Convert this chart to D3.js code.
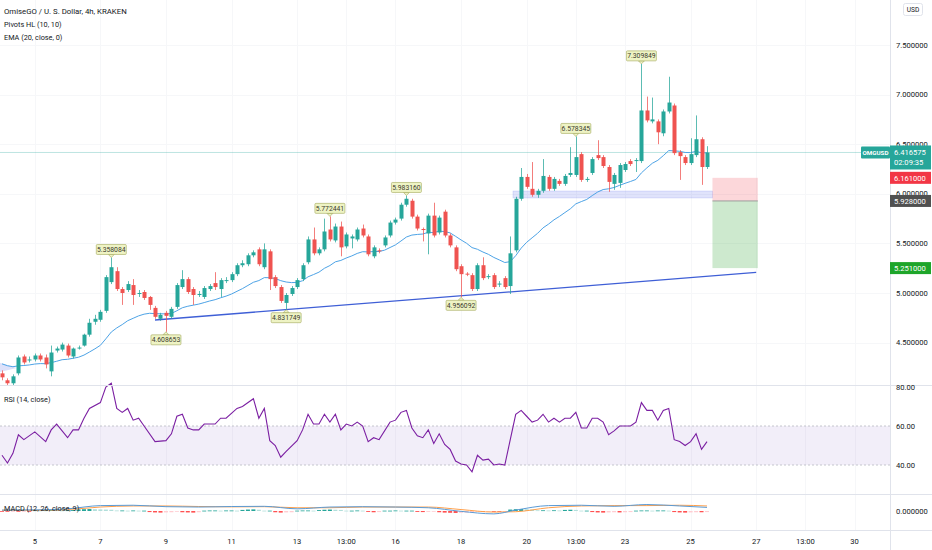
<!DOCTYPE html>
<html><head><meta charset="utf-8">
<script src="https://cdn.jsdelivr.net/npm/d3@7/dist/d3.min.js"></script>
<style>html,body{margin:0;padding:0;background:#fff;}svg{display:block;font-family:Roboto,"Liberation Sans",sans-serif;}</style>
</head><body>
<svg id="c" width="932" height="550"></svg>
<script>
// ---------- DATA ----------
const legendLines = ["OmiseGO / U. S. Dollar, 4h, KRAKEN", "Pivots HL (10, 10)", "EMA (20, close, 0)"];
const opens  = [4.19,4.12,4.09,4.19,4.36,4.32,4.33,4.37,4.35,4.21,4.42,4.43,4.47,4.36,4.44,4.47,4.58,4.71,4.73,4.82,5.11,5.22,5.04,5.03,5.08,4.99,5.01,4.96,4.85,4.74,4.80,4.76,4.86,5.06,5.14,5.04,4.98,4.96,5.04,5.10,5.04,5.12,5.13,5.19,5.28,5.29,5.38,5.44,5.26,5.42,5.16,5.06,4.90,4.99,5.06,5.14,5.31,5.54,5.40,5.44,5.64,5.53,5.67,5.47,5.55,5.54,5.65,5.57,5.37,5.43,5.48,5.58,5.71,5.75,5.89,5.93,5.77,5.645,5.60,5.78,5.61,5.82,5.58,5.46,5.27,5.195,5.18,5.04,5.28,5.16,5.18,5.085,5.15,5.07,5.43,5.95,6.17,6.05,5.99,6.03,6.17,6.05,6.13,6.10,6.19,6.19,6.40,6.14,6.21,6.39,6.37,6.27,6.10,6.11,6.24,6.33,6.33,6.33,6.84,6.73,6.73,6.61,6.83,6.89,6.42,6.37,6.31,6.39,6.55,6.27];
const highs  = [4.22,4.14,4.18,4.37,4.38,4.36,4.39,4.39,4.38,4.47,4.46,4.50,4.49,4.45,4.47,4.59,4.74,4.78,4.83,5.18,5.358084,5.26,5.06,5.12,5.14,5.03,5.03,4.97,4.87,4.80,4.82,4.86,5.10,5.23,5.16,5.06,5.02,5.07,5.09,5.21,5.15,5.16,5.21,5.30,5.33,5.40,5.43,5.46,5.50,5.44,5.18,5.08,5.00,5.07,5.15,5.30,5.57,5.66,5.46,5.75,5.772441,5.70,5.72,5.61,5.59,5.66,5.69,5.59,5.48,5.45,5.58,5.73,5.76,5.91,5.983160,5.95,5.79,5.66,5.80,5.91,5.78,5.84,5.60,5.48,5.29,5.21,5.20,5.30,5.36,5.19,5.20,5.12,5.17,5.57,5.97,6.26,6.20,6.32,6.05,6.35,6.19,6.17,6.15,6.20,6.47,6.578345,6.42,6.17,6.37,6.54,6.39,6.29,6.21,6.31,6.32,6.35,6.36,7.309849,6.98,6.97,6.75,6.85,7.18,6.91,6.44,6.39,6.56,6.79,6.57,6.48];
const lows   = [4.12,4.06,4.06,4.17,4.28,4.30,4.31,4.31,4.24,4.16,4.40,4.41,4.35,4.34,4.43,4.46,4.56,4.68,4.71,4.80,5.09,5.02,4.88,5.01,4.88,4.96,4.93,4.83,4.74,4.72,4.608653,4.74,4.84,5.04,4.99,4.88,4.96,4.94,5.02,5.03,4.96,5.10,5.11,5.17,5.26,5.27,5.36,5.27,5.24,5.03,5.05,4.90,4.831749,4.97,5.04,5.12,5.29,5.38,5.38,5.42,5.52,5.51,5.37,5.45,5.45,5.52,5.56,5.37,5.35,5.40,5.46,5.56,5.69,5.73,5.87,5.75,5.63,5.52,5.39,5.56,5.59,5.56,5.46,5.22,4.956092,5.17,5.02,5.02,5.13,5.14,5.04,5.06,5.04,4.99,5.41,5.93,6.05,5.97,5.96,6.01,6.03,6.03,6.08,6.08,6.17,6.17,6.12,6.12,6.19,6.34,6.26,6.02,6.04,6.06,6.22,6.28,6.22,6.31,6.72,6.71,6.50,6.58,6.81,6.39,6.14,6.29,6.29,6.37,6.09,6.25];
const closes = [4.15,4.09,4.16,4.35,4.30,4.33,4.37,4.33,4.28,4.40,4.44,4.48,4.37,4.44,4.45,4.58,4.70,4.74,4.81,5.16,5.26,5.04,5.00,5.09,4.98,5.00,4.95,4.88,4.76,4.78,4.77,4.84,5.08,5.14,5.01,4.98,4.99,5.05,5.07,5.06,5.13,5.13,5.19,5.28,5.30,5.38,5.41,5.29,5.44,5.14,5.07,4.92,4.98,5.05,5.13,5.28,5.54,5.40,5.44,5.62,5.54,5.67,5.46,5.59,5.57,5.64,5.58,5.39,5.46,5.42,5.56,5.71,5.74,5.89,5.95,5.77,5.65,5.635,5.78,5.58,5.76,5.58,5.48,5.24,5.19,5.185,5.04,5.28,5.15,5.17,5.06,5.095,5.06,5.40,5.95,6.17,6.07,5.99,6.03,6.18,6.05,6.15,6.10,6.18,6.21,6.37,6.14,6.15,6.35,6.36,6.28,6.12,6.19,6.29,6.30,6.30,6.34,6.84,6.74,6.75,6.62,6.83,6.92,6.41,6.38,6.31,6.40,6.55,6.27,6.416575];
const emaPeriod = 20, emaSeed = 4.30;
const pivotIdx   = [20, 30, 52, 60, 74, 84, 105, 117];
const pivotPrice = [5.358084, 4.608653, 4.831749, 5.772441, 5.983160, 4.956092, 6.578345, 7.309849];
const pivotType  = ["H","L","L","H","H","L","H","H"];
const priceTicks = [4.5, 5.0, 5.5, 6.0, 6.5, 7.0, 7.5];
const xTickIdx    = [6, 18, 30, 42, 54, 63, 72, 84, 96, 105, 114, 126, 138, 147, 156];
const xTickLabels = ["5","7","9","11","13","13:00","16","18","20","13:00","23","25","27","13:00","30"];
const rsiIdx = [0,1,2,3,4,6,8,9,10,12,13,14,15,16,18,19,20,21,22,23,24,25,26,28,30,31,32,33,34,35,36,37,39,40,41,43,44,46,47,48,49,50,51,52,54,55,56,57,58,59,60,61,62,63,64,65,66,67,68,69,71,72,73,74,75,76,77,78,79,80,81,82,83,84,85,86,87,88,89,90,91,92,94,95,96,97,98,99,100,101,102,103,104,105,106,107,108,109,110,111,112,113,114,115,116,117,118,119,120,121,122,123,124,125,126,127,128,129];
const rsiVal = [45,41,46,55.5,53,57,52,58,61,54,58,58,64,69,72,80,82,69,67,69,63,64,60,52,52.5,56,65,66,59,58,58,61,61,64,64,69,70,74,64,69,52.5,50,44,47,52.5,58,66,61,61,66,62,66,58,61,60,62,60,52,54,53,62,63,67,68,59,55,54,58,51,56,50.5,48,42,40.5,40,36.5,45,42.5,43,40,40.5,40,66,68,65,62,63,66,62,64,62,64,64,67,59,59,64,64,62,55.5,57.5,60,60,60,62,72,68,68,63,68,69,53,52,50,52,56,48,52];
const rsiTicks = [80, 60, 40];
const rsiBand = [40, 60];
const macdIdx    = [0,6,12,18,24,30,36,42,48,54,60,66,72,78,84,90,94,100,106,112,118,124,129];
const macdVal    = [0.05,0.06,0.12,0.30,0.32,0.24,0.22,0.25,0.26,0.12,0.22,0.24,0.22,0.18,-0.02,-0.16,0.05,0.30,0.32,0.26,0.36,0.28,0.20];
const signalVal  = [0.04,0.04,0.08,0.22,0.28,0.28,0.25,0.23,0.24,0.18,0.18,0.22,0.22,0.22,0.08,-0.06,-0.04,0.18,0.28,0.30,0.30,0.32,0.28];
const histVal = [-0.03,-0.03,-0.02,-0.03,-0.02,-0.03,0.04,0.03,0.04,0.05,0.04,0.03,0.04,0.05,0.09,0.10,0.11,0.10,0.09,0.08,0.07,0.03,0.03,0.02,0.03,0.02,0.02,-0.06,-0.08,-0.09,-0.08,-0.07,-0.03,-0.07,-0.08,-0.09,-0.07,0.02,0.03,0.03,0.02,0.03,0.03,0.02,0.06,0.08,0.09,0.07,0.02,0.02,-0.07,-0.09,-0.08,-0.07,0.02,0.03,0.03,0.02,0.05,0.07,0.08,0.07,0.06,0.02,0.02,0.03,0.02,-0.05,-0.07,-0.06,0.02,0.02,0.03,0.02,0.02,0.02,-0.05,-0.06,-0.05,-0.02,-0.07,-0.09,-0.10,-0.11,-0.10,-0.09,-0.08,-0.04,-0.04,-0.03,-0.04,-0.04,-0.03,0.08,0.10,0.11,0.10,0.08,0.04,0.04,0.03,0.04,0.03,0.06,0.07,0.06,0.02,0.02,-0.06,-0.08,-0.09,-0.08,-0.07,-0.08,-0.07,-0.06,0.02,0.03,0.03,0.02,0.03,0.03,0.02,-0.06,-0.08,-0.09,-0.08,-0.07,-0.07,-0.06];
const lastPrice = 6.416575, countdown = "02:09:35", symbol = "OMGUSD";
const posStop = 6.161, posEntry = 5.928, posTarget = 5.251;
const posIdx = [130, 138.3];
const zoneIdx = [93.5, 130], zonePrice = [5.958, 6.028];
const trendIdx = [28, 138], trendPrice = [4.728, 5.207];
const leftZone = [[-0.6, 4.30], [2.7, 4.245], [-0.6, 4.20]];

// ---------- LAYOUT ----------
const W = 932, H = 550, axisX = 890;
const mainTop = 0, mainBot = 385, rsiBot = 494, macdBot = 530;
const up = "#26a69a", dn = "#ef5350";
const svg = d3.select("#c");

const x  = d3.scaleLinear().domain([0, 129]).range([2, 707]);
const y  = d3.scaleLinear().domain([4.5, 7.5]).range([342.6, 45]);
const yR = d3.scaleLinear().domain([40, 80]).range([465, 387]);
const yM = d3.scaleLinear().domain([-1, 1]).range([529, 493]);

// grid
const grid = svg.append("g").attr("stroke", "#f6f7f9").attr("stroke-width", 1);
priceTicks.forEach(p => grid.append("line").attr("x1", 0).attr("x2", axisX).attr("y1", Math.round(y(p)) + 0.5).attr("y2", Math.round(y(p)) + 0.5));
xTickIdx.forEach(i => grid.append("line").attr("x1", Math.round(x(i)) + 0.5).attr("x2", Math.round(x(i)) + 0.5).attr("y1", 0).attr("y2", macdBot));

// clip for main panel
svg.append("clipPath").attr("id", "cm").append("rect").attr("x", 0).attr("y", mainTop).attr("width", axisX).attr("height", mainBot - mainTop);
const main = svg.append("g").attr("clip-path", "url(#cm)");

// zones
main.append("path").attr("d", d3.line().x(d => x(d[0])).y(d => y(d[1]))(leftZone) + "Z").attr("fill", "rgba(100,120,230,0.22)");
main.append("rect").attr("x", x(zoneIdx[0])).attr("width", x(zoneIdx[1]) - x(zoneIdx[0]))
  .attr("y", y(zonePrice[1])).attr("height", y(zonePrice[0]) - y(zonePrice[1]))
  .attr("fill", "rgba(100,115,235,0.2)").attr("stroke", "rgba(100,115,235,0.3)").attr("stroke-width", 0.6);

// last price line
main.append("line").attr("x1", 0).attr("x2", axisX).attr("y1", y(lastPrice)).attr("y2", y(lastPrice))
  .attr("stroke", "#26a69a").attr("stroke-opacity", 0.3).attr("stroke-width", 1);

// position tool
const px0 = x(posIdx[0]), px1 = x(posIdx[1]);
main.append("rect").attr("x", px0).attr("width", px1 - px0).attr("y", y(posStop)).attr("height", y(posEntry) - y(posStop)).attr("fill", "rgba(242,54,69,0.2)");
main.append("rect").attr("x", px0).attr("width", px1 - px0).attr("y", y(posEntry)).attr("height", y(posTarget) - y(posEntry)).attr("fill", "rgba(76,175,80,0.28)");
main.append("line").attr("x1", px0).attr("x2", px1).attr("y1", y(posEntry)).attr("y2", y(posEntry)).attr("stroke", "#9e9e9e").attr("stroke-width", 1);

// trend line
main.append("line").attr("x1", x(trendIdx[0])).attr("y1", y(trendPrice[0])).attr("x2", x(trendIdx[1])).attr("y2", y(trendPrice[1]))
  .attr("stroke", "#3f5fd6").attr("stroke-width", 1.3);

// EMA
const ema = [];
closes.forEach((c, i) => { const prev = i === 0 ? emaSeed : ema[i - 1]; ema.push(prev + (2 / (emaPeriod + 1)) * (c - prev)); });
main.append("path").attr("d", d3.line().x((d, i) => x(i)).y(d => y(d))(ema)).attr("fill", "none").attr("stroke", "#4da3e6").attr("stroke-width", 1);

// candles
const cg = main.append("g");
closes.forEach((c, i) => {
  const o = opens[i], col = c >= o ? up : dn, cx = Math.round(x(i)) + 0.5;
  cg.append("line").attr("x1", cx).attr("x2", cx).attr("y1", y(highs[i])).attr("y2", y(lows[i])).attr("stroke", col).attr("stroke-width", 1).attr("stroke-opacity", 0.75);
  const top = y(Math.max(o, c)), bot = y(Math.min(o, c));
  cg.append("rect").attr("x", cx - 2).attr("width", 4).attr("y", top).attr("height", Math.max(1, bot - top)).attr("fill", col);
});

// pivot labels
pivotIdx.forEach((pi, k) => {
  const cx = x(pi), py = y(pivotPrice[k]), txt = pivotPrice[k].toFixed(6), w = 30, h = 10;
  const g = main.append("g");
  let by, tri;
  if (pivotType[k] === "H") { by = py - 3 - h; tri = [[cx - 3, by + h], [cx + 3, by + h], [cx, by + h + 3]]; }
  else { by = py + 3; tri = [[cx - 3, by], [cx + 3, by], [cx, by - 3]]; }
  g.append("path").attr("d", d3.line()(tri) + "Z").attr("fill", "#eef3c4").attr("stroke", "#a3a85a").attr("stroke-width", 0.6);
  g.append("rect").attr("x", cx - w / 2).attr("y", by).attr("width", w).attr("height", h).attr("rx", 1)
    .attr("fill", "#eef3c4").attr("stroke", "#a3a85a").attr("stroke-width", 0.6);
  g.append("text").attr("x", cx).attr("y", by + h / 2 + 0.3).attr("text-anchor", "middle").attr("dominant-baseline", "central")
    .attr("font-size", 6.8).attr("fill", "#3b3b2e").text(txt);
});

// legend
legendLines.forEach((t, i) => svg.append("text").attr("x", 4).attr("y", 11 + i * 13).attr("dominant-baseline", "central")
  .attr("font-size", i === 0 ? 7.8 : 7.3).attr("fill", "#131722").text(t));

// ---------- RSI ----------
svg.append("rect").attr("x", 0).attr("width", axisX).attr("y", yR(rsiBand[1])).attr("height", yR(rsiBand[0]) - yR(rsiBand[1])).attr("fill", "rgba(126,87,194,0.1)");
rsiBand.forEach(v => svg.append("line").attr("x1", 0).attr("x2", axisX).attr("y1", yR(v)).attr("y2", yR(v))
  .attr("stroke", "#b7b9c2").attr("stroke-dasharray", "2,2").attr("stroke-width", 0.8));
svg.append("path").attr("d", d3.line().x(d => x(d[0])).y(d => yR(d[1]))(rsiIdx.map((v, i) => [v, rsiVal[i]])))
  .attr("fill", "none").attr("stroke", "#7b1fa2").attr("stroke-width", 1.1);
svg.append("text").attr("x", 4).attr("y", 399).attr("dominant-baseline", "central").attr("font-size", 7.3).attr("fill", "#131722").text("RSI (14, close)");

// ---------- MACD ----------
const mg = svg.append("g");
histVal.forEach((v, i) => {
  const prev = i > 0 ? histVal[i - 1] : v;
  const col = v >= 0 ? (v >= prev ? "#26a69a" : "#b2dfdb") : (v <= prev ? "#ff5252" : "#ffcdd2");
  const y0 = yM(0), y1 = yM(v);
  mg.append("rect").attr("x", x(i) - 2).attr("width", 4).attr("y", Math.min(y0, y1)).attr("height", Math.max(0.8, Math.abs(y1 - y0))).attr("fill", col);
});
mg.append("path").attr("d", d3.line().curve(d3.curveMonotoneX).x(d => x(d[0])).y(d => yM(d[1]))(macdIdx.map((v, i) => [v, signalVal[i]])))
  .attr("fill", "none").attr("stroke", "#ff9f4a").attr("stroke-width", 1);
mg.append("path").attr("d", d3.line().curve(d3.curveMonotoneX).x(d => x(d[0])).y(d => yM(d[1]))(macdIdx.map((v, i) => [v, macdVal[i]])))
  .attr("fill", "none").attr("stroke", "#5b9bd5").attr("stroke-width", 1);
svg.append("text").attr("x", 4).attr("y", 508).attr("dominant-baseline", "central").attr("font-size", 7.3).attr("fill", "#131722").text("MACD (12, 26, close, 9)");

// ---------- separators ----------
const sep = svg.append("g").attr("stroke", "#e0e3eb").attr("stroke-width", 1);
[mainBot, rsiBot, macdBot].forEach(v => sep.append("line").attr("x1", 0).attr("x2", W).attr("y1", v + 0.5).attr("y2", v + 0.5));
sep.append("line").attr("x1", axisX + 0.5).attr("x2", axisX + 0.5).attr("y1", 0).attr("y2", H);

// ---------- axes ----------
const axisText = (g, x0, yy, t) => g.append("text").attr("x", x0).attr("y", yy).attr("dominant-baseline", "central").attr("font-size", 7.6).attr("fill", "#131722").text(t);
priceTicks.forEach(p => axisText(svg, 896, y(p), p.toFixed(6)));
rsiTicks.forEach(v => axisText(svg, 896, yR(v), v.toFixed(2)));
axisText(svg, 896, yM(0), (0).toFixed(6));
xTickIdx.forEach((i, k) => svg.append("text").attr("x", x(i)).attr("y", 541).attr("text-anchor", "middle").attr("dominant-baseline", "central")
  .attr("font-size", 7.6).attr("fill", "#131722").text(xTickLabels[k]));

// USD box
svg.append("rect").attr("x", 903.5).attr("y", 3.5).attr("width", 19).attr("height", 12).attr("rx", 2).attr("fill", "#fff").attr("stroke", "#e0e3eb");
svg.append("text").attr("x", 913).attr("y", 9.8).attr("text-anchor", "middle").attr("dominant-baseline", "central").attr("font-size", 6.6).attr("fill", "#131722").text("USD");

// price tags
const tag = (price, fill, label) => {
  const cy = y(price);
  svg.append("rect").attr("x", 890).attr("y", cy - 6).attr("width", 41).attr("height", 12).attr("fill", fill);
  svg.append("text").attr("x", 894).attr("y", cy + 0.3).attr("dominant-baseline", "central").attr("font-size", 7.6).attr("fill", "#fff").text(label);
};
tag(posStop, "#f23645", posStop.toFixed(6));
tag(posEntry, "#505050", posEntry.toFixed(6));
tag(posTarget, "#1ea52a", posTarget.toFixed(6));
{
  const cy = y(lastPrice);
  svg.append("rect").attr("x", 861).attr("y", cy - 6).attr("width", 29).attr("height", 12).attr("rx", 1).attr("fill", up);
  svg.append("text").attr("x", 875.5).attr("y", cy + 0.3).attr("text-anchor", "middle").attr("dominant-baseline", "central").attr("font-size", 6.2).attr("font-weight", "bold").attr("fill", "#fff").text(symbol);
  svg.append("rect").attr("x", 890).attr("y", cy - 7).attr("width", 41).attr("height", 24).attr("fill", up);
  svg.append("text").attr("x", 894).attr("y", cy).attr("dominant-baseline", "central").attr("font-size", 7.6).attr("fill", "#fff").text(lastPrice.toFixed(6));
  svg.append("text").attr("x", 894).attr("y", cy + 10.5).attr("dominant-baseline", "central").attr("font-size", 7.6).attr("fill", "#fff").text(countdown);
}
</script>
</body></html>
